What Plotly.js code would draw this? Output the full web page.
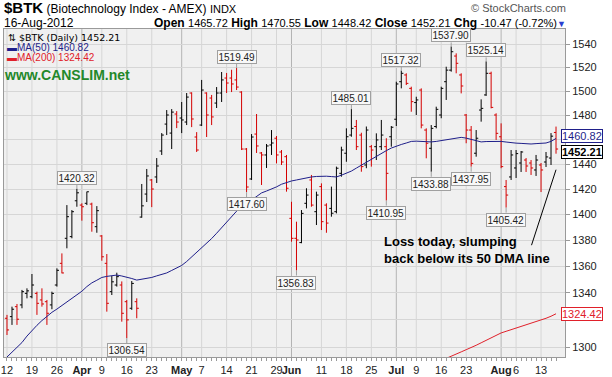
<!DOCTYPE html>
<html><head><meta charset="utf-8">
<script src="https://cdn.plot.ly/plotly-3.0.1.min.js"></script>
<style>html,body{margin:0;padding:0;background:#fff;}#chart{width:612px;height:377px;}</style>
</head><body><div id="chart"></div>
<script>
// ---- data ----
const dates = [
'2012-03-12','2012-03-13','2012-03-14','2012-03-15','2012-03-16','2012-03-19','2012-03-20','2012-03-21','2012-03-22','2012-03-23',
'2012-03-26','2012-03-27','2012-03-28','2012-03-29','2012-03-30','2012-04-02','2012-04-03','2012-04-04','2012-04-05','2012-04-09',
'2012-04-10','2012-04-11','2012-04-12','2012-04-13','2012-04-16','2012-04-17','2012-04-18','2012-04-19','2012-04-20','2012-04-23',
'2012-04-24','2012-04-25','2012-04-26','2012-04-27','2012-04-30','2012-05-01','2012-05-02','2012-05-03','2012-05-04','2012-05-07',
'2012-05-08','2012-05-09','2012-05-10','2012-05-11','2012-05-14','2012-05-15','2012-05-16','2012-05-17','2012-05-18','2012-05-21',
'2012-05-22','2012-05-23','2012-05-24','2012-05-25','2012-05-29','2012-05-30','2012-05-31','2012-06-01','2012-06-04','2012-06-05',
'2012-06-06','2012-06-07','2012-06-08','2012-06-11','2012-06-12','2012-06-13','2012-06-14','2012-06-15','2012-06-18','2012-06-19',
'2012-06-20','2012-06-21','2012-06-22','2012-06-25','2012-06-26','2012-06-27','2012-06-28','2012-06-29','2012-07-02','2012-07-03',
'2012-07-05','2012-07-06','2012-07-09','2012-07-10','2012-07-11','2012-07-12','2012-07-13','2012-07-16','2012-07-17','2012-07-18',
'2012-07-19','2012-07-20','2012-07-23','2012-07-24','2012-07-25','2012-07-26','2012-07-27','2012-07-30','2012-07-31','2012-08-01',
'2012-08-02','2012-08-03','2012-08-06','2012-08-07','2012-08-08','2012-08-09','2012-08-10','2012-08-13','2012-08-14','2012-08-15',
'2012-08-16'];
const openV = [
1321.1,1322.3,1329.7,1331.0,1339.6,1337.1,1339.6,1334.7,1333.4,1331.0,
1345.9,1362.3,1381.5,1382.8,1410.8,1407.4,1408.8,1408.2,1390.5,1383.3,
1362.3,1340.9,1345.9,1345.9,1333.4,1328.5,1333.4,1398.0,1416.1,1427.3,
1429.7,1450.6,1472.6,1465.2,1480.9,1477.6,1474.3,1498.4,1462.0,1471.8,
1498.4,1494.2,1490.0,1498.4,1511.0,1511.0,1509.4,1499.2,1452.2,1428.1,
1464.4,1449.0,1447.4,1455.5,1461.0,1449.8,1446.0,1397.0,1381.5,1378.2,
1408.8,1427.3,1402.2,1422.0,1407.4,1404.8,1402.2,1432.6,1448.8,1463.6,
1470.6,1463.6,1439.3,1454.1,1454.1,1454.1,1454.1,1462.2,1476.6,1507.9,
1513.6,1502.3,1490.4,1500.9,1467.7,1452.8,1470.6,1480.1,1507.9,1517.7,
1529.7,1513.6,1480.1,1467.7,1448.8,1484.2,1496.8,1515.0,1480.1,1462.2,
1422.0,1429.7,1436.9,1440.9,1443.3,1440.9,1435.3,1439.3,1441.7,1444.9,
1465.72];
const highV = [
1323.6,1329.7,1331.7,1342.2,1343.4,1354.2,1340.9,1343.4,1334.7,1340.9,
1358.5,1369.9,1407.4,1403.5,1420.32,1408.8,1418.0,1409.3,1406.6,1384.0,
1369.4,1352.7,1355.2,1348.6,1334.7,1348.9,1335.9,1424.1,1436.1,1428.1,
1444.9,1465.2,1484.2,1485.0,1483.3,1490.9,1498.4,1499.0,1466.0,1509.4,
1499.0,1496.8,1503.4,1516.1,1515.3,1518.0,1519.49,1499.9,1453.0,1464.4,
1480.9,1449.8,1456.3,1467.7,1462.8,1451.4,1447.4,1410.0,1394.4,1403.5,
1420.7,1431.3,1418.0,1424.6,1408.8,1422.0,1438.0,1454.1,1469.1,1485.01,
1476.0,1465.5,1470.6,1455.5,1465.0,1476.0,1461.0,1471.0,1507.9,1517.32,
1515.0,1503.7,1495.3,1502.3,1469.1,1471.8,1487.0,1503.7,1520.6,1537.90,
1532.0,1515.0,1480.9,1471.0,1467.7,1493.1,1525.14,1516.4,1481.5,1473.2,
1427.3,1451.4,1451.4,1450.6,1444.9,1443.3,1447.4,1440.9,1449.8,1465.2,
1470.55];
const lowV = [
1308.8,1316.2,1316.2,1328.5,1335.9,1335.9,1323.6,1329.7,1316.2,1327.8,
1344.7,1354.7,1373.8,1381.5,1406.1,1395.2,1407.4,1386.6,1385.8,1364.3,
1326.0,1338.4,1344.7,1318.6,1306.54,1327.3,1321.1,1397.5,1409.8,1405.8,
1424.9,1447.4,1463.6,1452.2,1469.3,1465.2,1471.8,1470.1,1449.8,1471.0,
1462.0,1471.8,1485.9,1490.9,1498.4,1499.2,1500.9,1451.4,1417.60,1427.3,
1449.0,1423.3,1436.9,1447.4,1440.6,1439.3,1418.0,1378.9,1356.83,1377.7,
1404.8,1406.1,1391.8,1387.9,1385.8,1398.3,1400.9,1429.9,1441.9,1462.2,
1451.4,1433.9,1436.7,1438.0,1443.3,1451.4,1410.95,1454.1,1471.0,1502.3,
1505.1,1482.8,1480.1,1469.1,1444.7,1433.88,1469.1,1477.4,1492.6,1516.4,
1515.0,1498.1,1456.9,1437.95,1446.0,1474.6,1496.0,1485.6,1459.6,1436.7,
1405.42,1427.3,1428.9,1433.7,1433.7,1431.3,1430.5,1417.7,1437.7,1439.3,
1448.42];
const closeV = [
1312.5,1327.8,1320.4,1340.9,1341.5,1345.9,1332.2,1331.7,1324.8,1339.6,
1357.0,1355.0,1398.3,1402.2,1417.1,1406.1,1417.9,1393.6,1403.0,1367.3,
1332.2,1348.3,1352.2,1324.8,1319.9,1347.1,1328.5,1406.8,1430.5,1420.1,
1438.5,1463.6,1480.1,1482.5,1474.3,1476.0,1495.0,1476.8,1451.4,1500.9,
1480.1,1478.5,1498.4,1509.4,1506.8,1506.0,1503.4,1452.2,1421.7,1462.0,
1454.7,1447.4,1454.7,1457.1,1447.4,1441.7,1420.7,1381.5,1380.2,1400.9,
1415.3,1407.4,1415.3,1394.4,1393.3,1401.0,1436.7,1451.4,1462.2,1469.1,
1454.1,1438.0,1467.7,1451.4,1459.6,1463.6,1432.6,1470.0,1506.0,1515.0,
1506.5,1491.2,1492.6,1471.8,1456.9,1469.1,1484.8,1502.3,1517.7,1533.4,
1523.5,1504.3,1467.7,1440.6,1461.0,1485.6,1515.0,1486.4,1465.0,1438.0,
1415.3,1447.4,1448.5,1449.8,1438.5,1436.9,1443.3,1435.3,1445.8,1462.68,
1452.21];
const ma50 = [
1292.8,1296.1,1299.5,1303.3,1308.0,1312.3,1315.9,1319.4,1322.8,1325.5,
1327.9,1330.5,1333.1,1335.7,1338.3,1341.2,1344.7,1347.5,1349.5,1351.6,
1352.4,1352.9,1353.4,1352.7,1351.9,1350.8,1349.6,1350.1,1350.7,1351.6,
1352.8,1353.8,1355.0,1356.9,1358.8,1360.7,1363.7,1367.1,1370.5,1373.7,
1377.2,1381.3,1385.4,1389.5,1393.9,1398.3,1402.6,1405.7,1408.5,1411.3,
1414.1,1417.0,1418.5,1419.9,1421.8,1423.9,1425.5,1426.5,1427.3,1428.3,
1429.0,1429.7,1430.1,1430.4,1430.3,1430.0,1429.7,1431.1,1432.6,1434.4,
1436.8,1439.2,1441.6,1444.1,1446.4,1448.6,1450.9,1453.0,1454.7,1455.9,
1457.1,1458.4,1458.6,1458.4,1458.1,1458.0,1458.4,1459.0,1459.5,1460.2,
1461.0,1461.7,1461.1,1459.9,1458.9,1458.0,1458.3,1458.5,1458.7,1458.4,
1457.9,1457.3,1457.0,1456.8,1456.5,1456.3,1456.6,1456.9,1457.1,1458.4,
1460.82];
const ma200 = [
null,null,null,null,null,null,null,null,null,null,
null,null,null,null,null,null,null,null,null,null,
null,null,null,null,null,null,null,null,null,null,
null,null,null,null,null,null,null,null,null,null,
null,null,null,null,null,null,null,null,null,null,
null,null,null,null,null,null,null,null,null,null,
null,null,null,null,null,null,null,null,null,null,
null,null,null,null,null,null,null,null,null,null,
null,null,null,null,null,null,null,null,1291.8,1293.2,
1294.8,1296.5,1298.1,1299.5,1301.3,1303.1,1304.9,1306.8,1308.6,1310.3,
1311.5,1312.7,1313.9,1315.1,1316.2,1317.2,1318.4,1319.7,1321.1,1322.6,
1324.42];
const yTicks = [1300,1320,1340,1360,1380,1400,1420,1440,1460,1480,1500,1520,1540];
const yTickText = ['1300','','1340','1360','1380','1400','1420','1440','','1480','1500','1520','1540']; // 1320 and 1460 sit under the value tags
const xLabelDates = ['2012-03-12','2012-03-19','2012-03-26','2012-04-02','2012-04-09','2012-04-16','2012-04-23',
  '2012-05-01','2012-05-07','2012-05-14','2012-05-21','2012-05-29','2012-06-01','2012-06-11','2012-06-18','2012-06-25',
  '2012-07-02','2012-07-09','2012-07-16','2012-07-23','2012-08-01','2012-08-06','2012-08-13'];
const xLabelText = ['12','19','26','Apr','9','16','23','May','7','14','21','29','Jun','11','18','25','Jul','9','16','23','Aug','6','13'];
const monthStarts = ['2012-04-02','2012-05-01','2012-06-01','2012-07-02','2012-08-01'];
const highLabelDates = ['2012-03-30','2012-05-16','2012-06-19','2012-07-03','2012-07-18','2012-07-27'];
const lowLabelDates = ['2012-04-16','2012-05-18','2012-06-04','2012-06-28','2012-07-12','2012-07-24','2012-08-02'];
const symbol = '$BTK', symName = '(Biotechnology Index - AMEX)', exch = 'INDX';

// ---- build ----
const n = dates.length;
const UP = '#000000', DOWN = '#d40000', MA50C = '#1f1f8a', MA200C = '#e0202a';
const isDown = closeV.map((c, i) => i === 0 ? c < openV[0] : c < closeV[i - 1]);
const pick = (arr, want) => arr.map((v, i) => isDown[i] === want ? v : null);
function ohlcTrace(want, color) {
  return {type: 'ohlc', x: dates, open: pick(openV, want), high: pick(highV, want),
    low: pick(lowV, want), close: pick(closeV, want), tickwidth: 0.42,
    increasing: {line: {color: color, width: 1}}, decreasing: {line: {color: color, width: 1}},
    hoverinfo: 'skip', showlegend: false};
}
const traces = [
  {type: 'scatter', mode: 'lines', x: dates, y: ma200, line: {color: MA200C, width: 1}, hoverinfo: 'skip', showlegend: false},
  {type: 'scatter', mode: 'lines', x: dates, y: ma50, line: {color: MA50C, width: 1}, hoverinfo: 'skip', showlegend: false},
  ohlcTrace(false, UP),
  ohlcTrace(true, DOWN)
];

const FONT = 'Liberation Sans, Arial, sans-serif';
const NARROW = 'Liberation Sans Narrow, Liberation Sans, Arial, sans-serif';
const tickText = dates.map(d => {
  const k = xLabelDates.indexOf(d);
  if (k < 0) return '';
  return monthStarts.includes(d) ? '<b>' + xLabelText[k] + '</b>' : xLabelText[k];
});
const shapes = xLabelDates.map(d => ({
  type: 'line', xref: 'x', yref: 'paper', x0: dates.indexOf(d), x1: dates.indexOf(d), y0: 0, y1: 1,
  layer: 'below', line: {color: monthStarts.includes(d) ? '#b4b4b4' : '#d6d6d6', width: 1}
}));

const L = n - 1;
const chg = closeV[L] - closeV[L - 1];
const pct = chg / closeV[L - 1] * 100;
const MON = ['Jan','Feb','Mar','Apr','May','Jun','Jul','Aug','Sep','Oct','Nov','Dec'];
const dp = dates[L].split('-');
const dateStr = dp[2] + '-' + MON[+dp[1] - 1] + '-' + dp[0];
const f2 = v => v.toFixed(2);
const num = v => '<span style="font-size:11px">' + v + '</span>';

const PX = px => (px - 4) / 561, PY = py => (357 - py) / 328;
const ann = [];
ann.push({xref: 'paper', yref: 'paper', x: PX(2), y: PY(7.5), xanchor: 'left', yanchor: 'middle', showarrow: false,
  text: '<span style="font-size:15px"><b>' + symbol + '</b></span> ' + symName + ' <span style="font-size:11px">' + exch + '</span>',
  font: {family: FONT, size: 12, color: '#000'}});
ann.push({xref: 'paper', yref: 'paper', x: PX(568), y: PY(8), xanchor: 'right', yanchor: 'middle', showarrow: false,
  text: '© StockCharts.com', font: {family: FONT, size: 11, color: '#555'}});
ann.push({xref: 'paper', yref: 'paper', x: PX(2), y: PY(23), xanchor: 'left', yanchor: 'middle', showarrow: false,
  text: dateStr, font: {family: FONT, size: 12, color: '#000'}});
ann.push({xref: 'paper', yref: 'paper', x: PX(568), y: PY(22.5), xanchor: 'right', yanchor: 'middle', showarrow: false,
  text: '<b>Open</b> ' + num(f2(openV[L])) + ' <b>High</b> ' + num(f2(highV[L])) + ' <b>Low</b> ' + num(f2(lowV[L])) +
        ' <b>Close</b> ' + num(f2(closeV[L])) + ' <b>Chg</b> ' + num(f2(chg) + ' (' + f2(pct) + '%)') +
        '<span style="font-size:9px;color:#2a3fd0">▼</span>',
  font: {family: FONT, size: 12, color: '#000'}});
// inner legend
ann.push({xref: 'paper', yref: 'paper', x: PX(6), y: PY(37), xanchor: 'left', yanchor: 'middle', showarrow: false,
  text: '⇅ ' + symbol + ' (Daily) ' + f2(closeV[L]), font: {family: 'DejaVu Sans, sans-serif', size: 9.5, color: '#000'}});
ann.push({xref: 'paper', yref: 'paper', x: PX(5), y: PY(47), xanchor: 'left', yanchor: 'middle', showarrow: false,
  text: '<b>▬</b>MA(50) ' + f2(ma50[L]), font: {family: FONT, size: 10, color: MA50C}});
ann.push({xref: 'paper', yref: 'paper', x: PX(5), y: PY(58), xanchor: 'left', yanchor: 'middle', showarrow: false,
  text: '<b>▬</b>MA(200) ' + f2(ma200[L]), font: {family: FONT, size: 10, color: MA200C}});
ann.push({xref: 'paper', yref: 'paper', x: PX(2), y: PY(75), xanchor: 'left', yanchor: 'middle', showarrow: false,
  text: '<b>www.CANSLIM.net</b>', font: {family: FONT, size: 14, color: '#23882a'}});
// comment
ann.push({xref: 'paper', yref: 'paper', x: PX(382), y: PY(250), xanchor: 'left', yanchor: 'middle', showarrow: false,
  align: 'left', text: '<b>Loss today, slumping<br>back below its 50 DMA line</b>',
  font: {family: FONT, size: 13, color: '#000'}});
ann.push({xref: 'x', yref: 'y', x: L, y: Math.log10(lowV[L]), yshift: -16, ax: -25, ay: 77, text: '',
  showarrow: true, arrowhead: 0, arrowwidth: 1, arrowcolor: '#000', standoff: 0});
// right-side value tags
function tag(v, color, bold, shift) {
  return {xref: 'paper', yref: 'y', x: 1, xshift: -4, yshift: shift, y: Math.log10(v), xanchor: 'left', yanchor: 'middle',
    showarrow: false, text: bold ? '<b>' + f2(v) + '</b>' : f2(v), bgcolor: '#ffffff', bordercolor: color,
    borderwidth: 1, borderpad: 0, font: {family: FONT, size: 11, color: color}};
}
ann.push(tag(ma50[L], MA50C, false, 2.5));
ann.push(tag(closeV[L], '#000', true, -2.5));
ann.push(tag(ma200[L], MA200C, false, 0));
// high / low labels
function hl(d, isHigh) {
  const i = dates.indexOf(d), v = isHigh ? highV[i] : lowV[i];
  return {xref: 'x', yref: 'y', x: i, y: Math.log10(v), text: f2(v), showarrow: true, arrowhead: 0, arrowwidth: 1,
    arrowcolor: '#a0a0a0', ax: 0, ay: isHigh ? -4 : 5, standoff: 0, xanchor: 'center', yanchor: isHigh ? 'bottom' : 'top',
    bgcolor: '#f8f8f8', bordercolor: '#a0a0a0', borderwidth: 1, borderpad: 0.5,
    font: {family: NARROW, size: 10, color: '#222'}};
}
highLabelDates.forEach(d => ann.push(hl(d, true)));
lowLabelDates.forEach(d => ann.push(hl(d, false)));

const layout = {
  width: 612, height: 377,
  margin: {l: 4, r: 47, t: 29, b: 20},
  paper_bgcolor: '#ffffff', plot_bgcolor: '#f0f0f0',
  showlegend: false,
  xaxis: {type: 'category', categoryorder: 'array', categoryarray: dates, range: [-0.6, 111.8],
    tickmode: 'array', tickvals: dates, ticktext: tickText, ticks: 'outside', ticklen: 3, tickcolor: '#9a9a9a',
    tickfont: {family: FONT, size: 11, color: '#222'}, showgrid: false, showline: true, linecolor: '#9a9a9a',
    mirror: true, rangeslider: {visible: false}, fixedrange: true, tickangle: 0},
  yaxis: {type: 'log', side: 'right', range: [Math.log10(1292.8), Math.log10(1553)],
    tickmode: 'array', tickvals: yTicks, ticktext: yTickText, ticks: 'outside', ticklen: 4, tickcolor: '#9a9a9a',
    tickfont: {family: FONT, size: 11, color: '#222'}, gridcolor: '#d6d6d6', showline: true, linecolor: '#9a9a9a',
    mirror: true, zeroline: false, fixedrange: true},
  shapes: shapes,
  annotations: ann
};
Plotly.newPlot('chart', traces, layout, {displayModeBar: false, staticPlot: true});
</script></body></html>
